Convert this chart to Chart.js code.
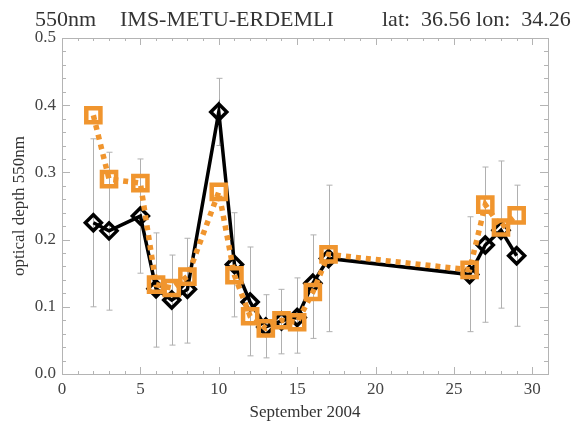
<!DOCTYPE html>
<html>
<head>
<meta charset="utf-8">
<script src="https://cdn.jsdelivr.net/npm/chart.js@4.4.1/dist/chart.umd.min.js"></script>
<style>
  html, body { margin: 0; padding: 0; background: #fff; }
</style>
</head>
<body>
<canvas id="aod" width="579" height="427"></canvas>
<script>
// days of September 2004 with observations
var days = [2, 3, 5, 6, 7, 8, 10, 11, 12, 13, 14, 15, 16, 17, 26, 27, 28, 29];
// black diamonds (solid line)
var blackVals = [0.225, 0.213, 0.235, 0.127, 0.110, 0.126, 0.390, 0.163, 0.107, 0.070, 0.079, 0.084, 0.135, 0.172, 0.148, 0.192, 0.214, 0.176];
// orange squares (dotted line)
var orangeVals = [0.385, 0.290, 0.284, 0.133, 0.128, 0.145, 0.271, 0.147, 0.086, 0.068, 0.080, 0.077, 0.122, 0.178, 0.155, 0.252, 0.218, 0.236];
// grey error bars
var errLo = [0.100, 0.095, 0.150, 0.040, 0.043, 0.046, 0.340, 0.085, 0.027, 0.024, 0.030, 0.031, 0.053, 0.063, 0.063, 0.077, 0.098, 0.071];
var errHi = [0.350, 0.330, 0.320, 0.210, 0.177, 0.202, 0.440, 0.240, 0.189, 0.118, 0.126, 0.143, 0.207, 0.281, 0.234, 0.308, 0.317, 0.281];
// tick labels
var xTicks = [0, 5, 10, 15, 20, 25, 30];
var yTicks = [0, 0.1, 0.2, 0.3, 0.4, 0.5];

var ORANGE = '#f0952e';
var FRAME = '#b4b4b4';
var SERIF = '"Liberation Serif", "DejaVu Serif", serif';

function pts(vals) {
  return days.map(function (d, i) { return { x: d, y: vals[i] }; });
}

// grey error bars behind the lines
var errorBars = {
  id: 'errorBars',
  beforeDatasetsDraw: function (chart) {
    var xs = chart.scales.x, ys = chart.scales.y, ctx = chart.ctx;
    ctx.save();
    ctx.strokeStyle = '#b0b0b0';
    ctx.lineWidth = 1;
    days.forEach(function (d, i) {
      var x = Math.round(xs.getPixelForValue(d)) + 0.5;
      var y1 = ys.getPixelForValue(errLo[i]);
      var y2 = ys.getPixelForValue(errHi[i]);
      ctx.beginPath();
      ctx.moveTo(x, y1); ctx.lineTo(x, y2);
      ctx.moveTo(x - 3, y1); ctx.lineTo(x + 3, y1);
      ctx.moveTo(x - 3, y2); ctx.lineTo(x + 3, y2);
      ctx.stroke();
    });
    ctx.restore();
  }
};

// box with inward ticks on all four sides
var frameTicks = {
  id: 'frameTicks',
  afterDraw: function (chart) {
    var a = chart.chartArea, xs = chart.scales.x, ys = chart.scales.y, ctx = chart.ctx;
    ctx.save();
    ctx.strokeStyle = FRAME;
    ctx.lineWidth = 1;
    ctx.strokeRect(Math.round(a.left) + 0.5, Math.round(a.top) + 0.5,
                   Math.round(a.right - a.left), Math.round(a.bottom - a.top));
    ctx.beginPath();
    for (var d = 0; d <= 31; d++) {
      var x = Math.round(xs.getPixelForValue(d)) + 0.5;
      var len = d % 5 === 0 ? 7 : 3;
      ctx.moveTo(x, a.bottom); ctx.lineTo(x, a.bottom - len);
      ctx.moveTo(x, a.top); ctx.lineTo(x, a.top + len);
    }
    for (var i = 0; i <= 25; i++) {
      var y = Math.round(ys.getPixelForValue(i / 50)) + 0.5;
      var l = i % 5 === 0 ? 8 : 4;
      ctx.moveTo(a.left, y); ctx.lineTo(a.left + l, y);
      ctx.moveTo(a.right, y); ctx.lineTo(a.right - l, y);
    }
    ctx.stroke();

    // header line
    ctx.fillStyle = '#333';
    ctx.font = '22px ' + SERIF;
    ctx.textBaseline = 'alphabetic';
    ctx.fillText('550nm', 35, 26);
    ctx.fillText('IMS-METU-ERDEMLI', 120, 26);
    ctx.fillText('lat:  36.56 lon:  34.26', 382, 26);
    ctx.restore();
  }
};

new Chart(document.getElementById('aod'), {
  type: 'line',
  data: {
    datasets: [{
      label: 'orange',
      data: pts(orangeVals),
      borderColor: ORANGE,
      borderWidth: 5.5,
      borderDash: [5, 5],
      pointStyle: 'rect',
      pointRadius: 10,
      pointBorderWidth: 4.5,
      pointBorderColor: ORANGE,
      pointBackgroundColor: 'rgba(0,0,0,0)',
      order: 0
    }, {
      label: 'black',
      data: pts(blackVals),
      borderColor: '#000',
      borderWidth: 3.5,
      pointStyle: 'rectRot',
      pointRadius: 8,
      pointBorderWidth: 3.5,
      pointBorderColor: '#000',
      pointBackgroundColor: 'rgba(0,0,0,0)',
      order: 1
    }]
  },
  options: {
    responsive: false,
    animation: false,
    layout: { padding: { top: 38, right: 31, left: 0, bottom: 0 } },
    plugins: { legend: { display: false }, tooltip: { enabled: false } },
    scales: {
      x: {
        type: 'linear', min: 0, max: 31,
        afterBuildTicks: function (s) { s.ticks = xTicks.map(function (v) { return { value: v }; }); },
        afterFit: function (s) { s.height = 53; },
        grid: { display: false, drawTicks: false },
        border: { display: false },
        ticks: { padding: 5, color: '#444', font: { family: SERIF, size: 17 }, maxRotation: 0 },
        title: { display: true, text: 'September 2004', color: '#333', padding: { top: 0, bottom: 4 }, font: { family: SERIF, size: 17 } }
      },
      y: {
        min: 0, max: 0.5,
        afterBuildTicks: function (s) { s.ticks = yTicks.map(function (v) { return { value: v }; }); },
        afterFit: function (s) { s.width = 62; },
        grid: { display: false, drawTicks: false },
        border: { display: false },
        ticks: { padding: 6, color: '#444', font: { family: SERIF, size: 17 },
          callback: function (v) { return v.toFixed(1); } },
        title: { display: true, text: 'optical depth 550nm', color: '#333', padding: { top: 9, bottom: 0 }, font: { family: SERIF, size: 17 } }
      }
    }
  },
  plugins: [errorBars, frameTicks]
});
</script>
</body>
</html>
